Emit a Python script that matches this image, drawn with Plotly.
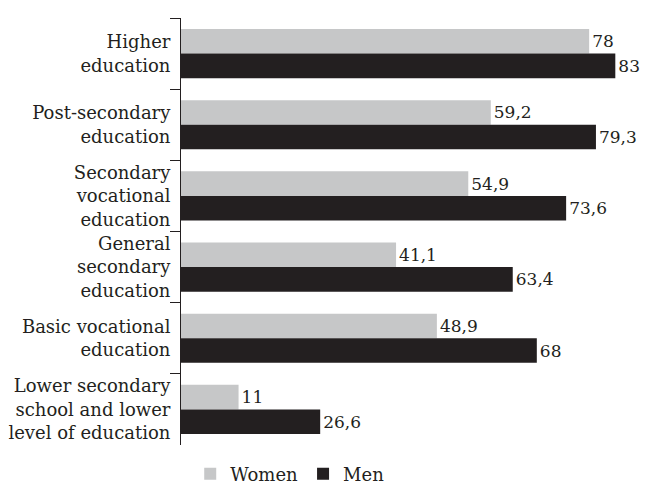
import plotly.graph_objects as go

categories = [
    "Higher<br>education",
    "Post-secondary<br>education",
    "Secondary<br>vocational<br>education",
    "General<br>secondary<br>education",
    "Basic vocational<br>education",
    "Lower secondary<br>school and lower<br>level of education",
]
women = [78, 59.2, 54.9, 41.1, 48.9, 11]
men = [83, 79.3, 73.6, 63.4, 68, 26.6]

WOMEN_COLOR = "#c6c7c8"
MEN_COLOR = "#231f20"
FONT = "DejaVu Serif"


def fmt(v):
    return f"{v:g}".replace(".", ",")


fig = go.Figure()
fig.add_trace(go.Bar(
    name="Women", y=categories, x=women, orientation="h",
    marker=dict(color=WOMEN_COLOR, line=dict(width=0)),
    text=[fmt(v) for v in women], textposition="outside",
    textfont=dict(family=FONT, size=17, color="#231f20"),
    cliponaxis=False,
))
fig.add_trace(go.Bar(
    name="Men", y=categories, x=men, orientation="h",
    marker=dict(color=MEN_COLOR, line=dict(width=0)),
    text=[fmt(v) for v in men], textposition="outside",
    textfont=dict(family=FONT, size=17, color="#231f20"),
    cliponaxis=False,
))

fig.update_layout(
    width=648, height=485,
    margin=dict(l=181, r=6, t=18, b=40, autoexpand=False),
    paper_bgcolor="white", plot_bgcolor="white",
    font=dict(family=FONT, size=18, color="#231f20"),
    barmode="group", bargap=0.31, bargroupgap=0,
    showlegend=True,
    legend=dict(
        orientation="h", x=0.02, xanchor="left",
        yref="container", y=0.0227, yanchor="middle",
        font=dict(family=FONT, size=18, color="#231f20"),
        bgcolor="rgba(0,0,0,0)",
    ),
    xaxis=dict(range=[0, 88.1], visible=False, showgrid=False, zeroline=False),
    yaxis=dict(
        autorange="reversed", tickson="boundaries", ticks="outside",
        ticklen=10, tickcolor="#231f20", tickwidth=1,
        showline=True, linecolor="#231f20", linewidth=1,
        showgrid=False, zeroline=False, ticklabelstandoff=6,
        tickfont=dict(family=FONT, size=18, color="#231f20"),
    ),
)

fig.write_html("out.html")
